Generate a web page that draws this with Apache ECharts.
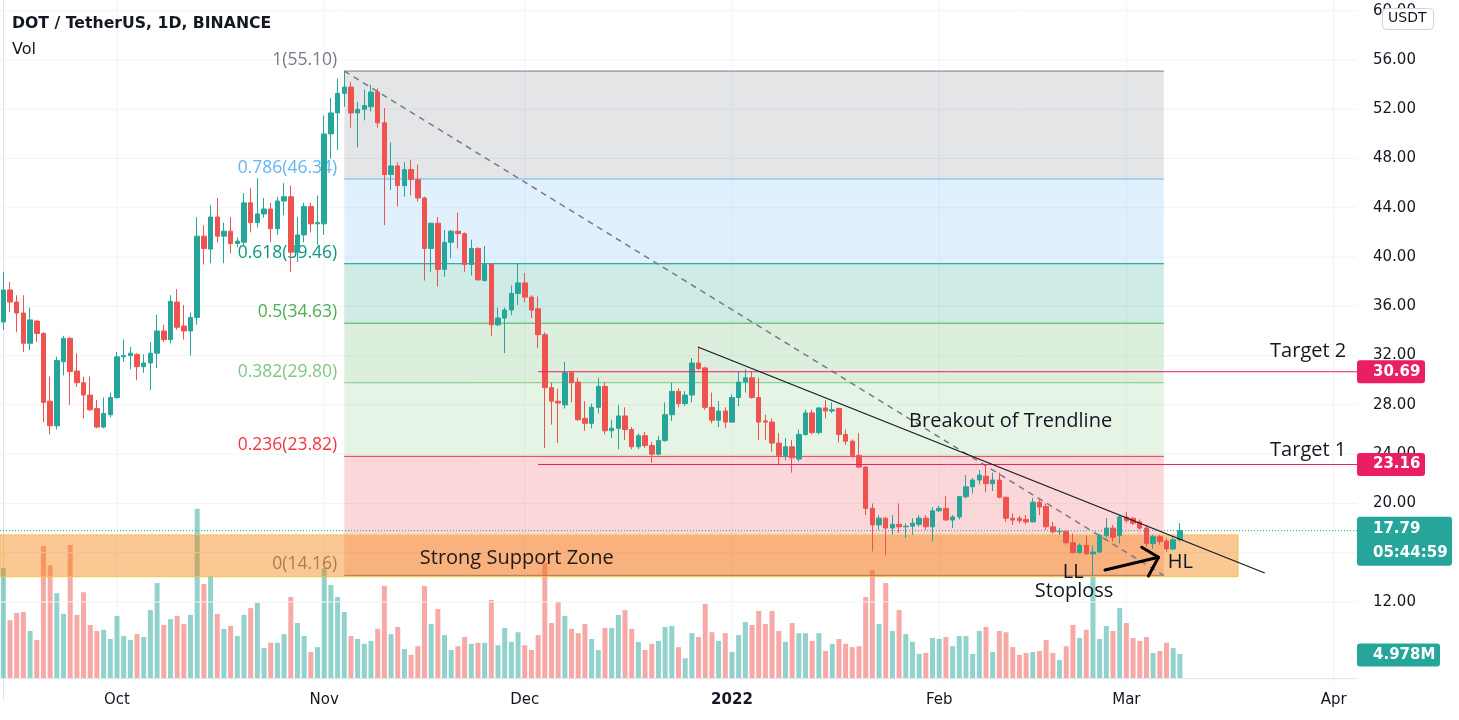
<!DOCTYPE html>
<html><head><meta charset="utf-8">
<script src="https://cdn.jsdelivr.net/npm/echarts@6/dist/echarts.min.js"></script>
<style>html,body{margin:0;padding:0;background:#fff}#c{width:1459px;height:720px}</style>
</head><body><div id="c"></div>
<script>
// ---------- DATA ----------
const firstDay = '2021-09-14';
const dayCount = 203; // visible days on the time scale (Sep 14 2021 .. Apr 4 2022)
// daily candles [open, high, low, close]
const ohlc = [
[34.73,38.79,34.08,37.33],[37.33,37.98,35.54,36.35],[36.35,36.9,33.9,35.46],[35.46,36.9,32.3,33.0],[33.0,35.9,32.45,34.9],
[34.8,34.9,33.1,33.8],[33.8,33.9,26.6,28.2],[28.3,30.3,25.6,26.3],[26.3,31.9,26.0,31.6],[31.5,33.6,30.4,33.4],
[33.4,33.5,28.0,30.7],[30.75,32.2,29.45,29.8],[29.8,30.3,26.9,28.8],[28.8,30.3,27.5,27.6],[27.7,28.4,26.1,26.2],
[26.2,28.6,26.1,27.3],[27.2,29.0,27.0,28.6],[28.6,32.3,28.5,31.9],[31.9,33.3,31.5,32.0],[32.0,32.7,30.9,32.2],
[32.1,32.2,30.0,31.1],[31.1,32.1,30.6,31.4],[31.4,33.1,29.2,32.2],[32.2,35.3,31.0,34.0],[34.0,34.5,33.1,33.3],
[33.3,36.9,33.0,36.4],[36.35,37.4,34.1,34.3],[34.4,36.1,33.3,34.0],[34.0,35.5,32.0,35.1],[35.1,43.25,34.5,41.7],
[41.7,42.6,39.4,40.7],[40.65,44.2,39.5,43.25],[43.25,44.8,41.2,41.7],[41.7,42.8,39.5,42.1],[42.1,43.25,40.3,41.1],
[41.1,41.6,40.8,41.3],[41.2,45.2,40.9,44.4],[44.4,45.6,42.0,42.8],[42.8,46.4,42.4,43.5],[43.5,44.8,43.2,43.9],
[43.9,44.4,41.2,42.3],[42.3,44.9,41.8,44.55],[44.55,46.0,43.4,44.9],[44.9,45.8,38.8,40.4],[40.4,43.25,39.6,41.8],
[41.8,44.4,41.2,44.1],[44.1,44.4,42.0,42.7],[42.7,45.0,41.0,42.8],[42.7,51.5,41.8,50.0],[50.0,52.9,48.0,51.7],
[51.7,54.5,48.7,53.3],[53.3,55.1,52.2,53.8],[53.8,54.2,50.5,51.7],[51.7,52.6,48.9,52.0],[52.0,53.6,51.1,52.3],
[52.2,54.0,51.8,53.4],[53.4,53.7,50.5,50.9],[50.9,52.1,42.6,46.7],[46.7,49.3,45.45,47.4],[47.4,47.7,44.1,45.8],
[45.8,47.7,44.9,47.1],[47.1,47.9,45.0,46.3],[46.3,47.5,44.5,44.8],[44.8,44.9,38.1,40.7],[40.7,42.8,38.8,42.75],
[42.75,43.25,37.6,39.0],[39.0,42.2,38.4,41.2],[41.2,42.2,39.9,42.1],[42.1,43.6,40.7,41.9],[41.9,42.0,38.8,39.4],
[39.4,41.4,38.5,40.7],[40.7,40.8,38.1,38.15],[38.1,40.9,38.0,39.4],[39.4,39.5,33.6,34.5],[34.5,35.9,34.4,35.05],
[35.05,35.9,32.2,35.7],[35.7,37.7,35.3,37.05],[37.05,39.5,36.1,37.9],[37.9,38.7,36.3,36.75],[36.75,36.9,35.05,35.7],
[35.8,36.8,32.6,33.7],[33.7,33.9,24.5,29.4],[29.4,29.8,26.4,28.3],[28.3,29.3,24.9,28.15],[28.0,31.5,27.7,30.6],
[30.6,30.7,28.2,29.8],[29.85,30.2,26.7,26.8],[26.9,28.3,25.9,26.5],[26.5,28.1,26.1,27.8],[27.8,30.2,27.3,29.5],
[29.5,29.85,25.6,25.9],[25.9,26.8,25.3,26.1],[26.1,28.0,24.4,27.1],[27.1,27.8,25.15,26.0],[26.0,26.2,24.4,24.6],
[24.6,25.7,24.4,25.5],[25.5,25.8,24.5,24.7],[24.7,25.0,23.3,24.0],[24.0,25.5,23.9,25.1],[25.1,28.2,25.0,27.2],
[27.2,29.8,26.7,29.1],[29.1,29.35,27.8,28.1],[28.1,29.1,27.9,28.8],[28.8,31.8,28.2,31.4],[31.4,32.7,30.8,30.95],
[31.0,31.1,27.6,27.8],[27.8,29.0,26.5,26.75],[26.75,28.3,26.2,27.5],[27.5,27.8,26.1,26.6],[26.6,28.85,26.55,28.6],
[28.6,30.7,27.9,29.85],[29.85,30.9,29.0,30.2],[30.2,30.7,28.5,28.6],[28.6,30.2,25.15,26.6],[26.7,27.2,25.15,26.6],
[26.6,26.9,24.2,24.9],[24.9,25.7,23.1,23.9],[23.9,25.3,23.5,24.6],[24.6,25.15,22.5,23.7],[23.6,26.0,23.4,25.6],
[25.6,27.6,25.5,27.35],[27.35,27.6,25.6,25.75],[25.75,27.8,25.6,27.75],[27.75,28.4,26.9,27.5],[27.5,28.2,27.35,27.6],
[27.7,27.8,24.95,25.6],[25.6,26.0,24.75,25.05],[25.05,25.2,23.7,23.9],[23.9,25.7,22.9,22.95],[22.95,23.0,19.05,19.6],
[19.6,20.0,16.1,18.25],[18.25,19.05,17.85,18.8],[18.8,18.9,15.8,18.0],[18.0,19.05,17.45,18.3],[18.3,20.0,17.6,18.1],
[18.1,18.4,17.2,18.15],[18.15,18.8,17.45,18.4],[18.3,19.05,18.1,18.8],[18.8,19.05,17.85,18.1],[18.1,19.7,16.9,19.4],
[19.4,19.8,19.3,19.6],[19.6,20.6,18.6,18.65],[18.65,19.05,18.0,18.9],[18.9,20.6,18.7,20.55],[20.55,22.3,20.4,21.35],
[21.35,22.05,20.8,21.9],[21.9,22.7,21.55,22.3],[22.2,23.1,20.9,21.6],[21.6,22.5,21.0,21.9],[21.9,22.5,20.4,20.5],
[20.5,20.55,18.5,18.8],[18.8,19.2,18.25,18.65],[18.8,19.0,18.4,18.6],[18.7,19.05,18.3,18.5],[18.5,20.45,18.45,20.1],
[20.1,20.35,19.05,19.7],[19.75,20.0,17.85,18.1],[18.1,18.5,17.55,17.7],[17.7,18.0,17.45,17.75],[17.75,17.8,16.65,16.8],
[16.8,17.55,15.95,16.0],[16.0,16.75,15.95,16.6],[16.6,17.4,15.85,15.9],[15.9,16.6,14.16,16.05],[16.05,17.55,15.95,17.4],
[17.4,18.8,17.2,18.0],[18.0,18.25,16.9,17.25],[17.4,19.05,16.75,18.9],[18.9,19.3,18.4,18.6],[18.8,18.9,18.25,18.4],
[18.5,18.7,17.85,18.0],[18.0,18.25,16.5,16.75],[16.75,17.45,16.3,17.3],[17.3,17.45,16.65,16.9],[16.95,17.2,16.05,16.3],
[16.3,17.3,16.2,17.05],[17.05,18.4,16.9,17.79]
];
// daily volume, millions of DOT
const volumes = [
22.8,12.0,13.5,13.7,9.75,7.9,27.4,23.4,17.6,13.3,27.6,13.1,17.8,11.0,9.75,10.0,8.1,12.9,8.7,7.9,
9.1,8.5,14.1,19.7,11.0,12.2,12.9,11.2,13.1,35.1,19.5,21.2,13.3,10.2,10.8,8.7,13.1,14.5,15.6,6.2,
7.3,7.3,9.1,16.8,11.4,8.7,5.4,6.4,22.8,19.3,16.8,13.7,8.7,8.1,7.1,7.7,10.2,19.1,9.1,10.6,
6.0,4.8,6.6,19.1,11.2,14.3,8.9,5.8,6.6,8.5,7.1,7.3,7.3,16.2,6.8,10.4,7.5,9.5,6.8,5.8,
8.9,23.9,11.4,15.8,12.9,10.2,9.3,11.2,8.1,5.8,10.4,10.4,13.1,14.1,10.2,7.5,5.8,7.1,7.7,10.6,
10.8,6.4,4.1,9.3,8.5,15.4,9.5,7.7,9.3,5.4,8.9,11.6,11.0,13.9,11.2,13.9,9.75,7.5,11.4,9.3,
9.3,7.7,9.3,5.6,7.1,8.1,7.1,6.4,6.6,16.8,22.4,11.2,19.7,9.75,14.1,9.1,7.5,5.0,5.2,8.3,
8.1,8.5,6.6,8.7,8.7,5.0,9.75,10.6,5.4,9.75,9.5,6.4,4.8,5.2,5.4,5.6,7.9,5.2,3.7,6.6,
11.0,8.3,10.0,21.0,8.1,10.8,9.75,14.5,11.4,8.3,7.7,8.5,5.2,5.6,7.3,6.2,4.978
];
const monthLabels = {'10':'Oct','11':'Nov','12':'Dec','01':'2022','02':'Feb','03':'Mar','04':'Apr'};
const priceTicks = [12,16,20,24,28,32,36,40,44,48,52,56,60];
const fibRatios = ['1','0.786','0.618','0.5','0.382','0.236','0'];
const fibPrices = [55.10,46.34,39.46,34.63,29.80,23.82,14.16];
const targetNames = ['Target 2','Target 1'];
const targetPrices = [30.69,23.16];
const supportZone = [14.05,17.44];
const trendHigh = 32.70, trendEndPrice = 14.35;
const lastPrice = 17.79, countdown = '05:44:59', lastVolumeText = '4.978M';

// ---------- DERIVED ----------
const dates = [];
for (let i = 0; i < dayCount; i++) {
  const d = new Date(firstDay + 'T00:00:00Z'); d.setUTCDate(d.getUTCDate() + i);
  dates.push(d.toISOString().slice(0, 10));
}
const candleData = ohlc.map(r => [r[0], r[3], r[2], r[1]]);
const UP = '#26a69a', DOWN = '#ef5350';
const volData = volumes.map((v, i) => ({ value: v, itemStyle: { color: ohlc[i][3] >= ohlc[i][0] ? 'rgba(38,166,154,0.5)' : 'rgba(239,83,80,0.5)' } }));
const monthStartIdx = dates.map((d, i) => d.endsWith('-01') ? i : -1).filter(i => i >= 0);
const lastIdx = ohlc.length - 1;

// annotation anchors (day index on the time scale)
const fibStart = 51, fibEnd = 173.6;
const zoneEnd = 184.7, targetStart = 80;
const trendStart = 103.9, trendEnd = 188.7;

const FONT_AX = 'DejaVu Sans';
const FONT_DRAW = 'Open Sans';
const fibColors = ['#787b86','#64b5f6','#089981','#4caf50','#81c784','#f23645','#787b86'];
const fibFills = ['rgba(120,123,134,0.2)','rgba(100,181,246,0.2)','rgba(8,153,129,0.2)','rgba(76,175,80,0.2)','rgba(129,199,132,0.2)','rgba(242,54,69,0.2)'];

function P(api, x, y) { return api.coord([x, y]); }
function seg(api, x0, y0, x1, y1, style) {
  const a = P(api, x0, y0), b = P(api, x1, y1);
  return { type: 'line', shape: { x1: a[0], y1: a[1], x2: b[0], y2: b[1] }, style: style };
}
function box(api, x0, x1, y0, y1, style) {
  const a = P(api, x0, y0), b = P(api, x1, y1);
  return { type: 'rect', shape: { x: Math.min(a[0], b[0]), y: Math.min(a[1], b[1]), width: Math.abs(b[0] - a[0]), height: Math.abs(b[1] - a[1]) }, style: style };
}
function label(x, y, text, fill, font, align, valign) {
  return { type: 'text', x: x, y: y, style: { text: text, fill: fill, font: font, textAlign: align || 'left', textVerticalAlign: valign || 'middle' } };
}

// background grid + fib tool
function renderFib(params, api) {
  const kids = [];
  priceTicks.forEach(t => kids.push(seg(api, -0.5, t, dayCount - 0.5, t, { stroke: '#f0f3fa', lineWidth: 1 })));
  for (let i = 0; i < fibPrices.length - 1; i++) kids.push(box(api, fibStart, fibEnd, fibPrices[i], fibPrices[i + 1], { fill: fibFills[i] }));
  fibPrices.forEach((p, i) => {
    kids.push(seg(api, fibStart, p, fibEnd, p, { stroke: fibColors[i], lineWidth: 1 }));
    const a = P(api, fibStart, p);
    kids.push(label(a[0] - 7, a[1] - 2, fibRatios[i] + '(' + p.toFixed(2) + ')', fibColors[i], '17.5px "' + FONT_DRAW + '"', 'right', 'bottom'));
  });
  return { type: 'group', children: kids };
}
function renderZone(params, api) {
  const kids = [];
  kids.push(box(api, -0.5, zoneEnd, supportZone[0], supportZone[1], { fill: 'rgba(245,124,0,0.42)', stroke: '#f3c24a', lineWidth: 1 }));
  const t = P(api, 62.3, 15.57);
  kids.push(label(t[0], t[1], 'Strong Support Zone', '#1f1a16', '20px "' + FONT_DRAW + '"'));
  return { type: 'group', children: kids };
}
function renderDrawings(params, api) {
  const kids = [];
  const F = '20px "' + FONT_DRAW + '"';
  kids.push(seg(api, fibStart, fibPrices[0], fibEnd, fibPrices[6], { stroke: '#787b86', lineWidth: 1.5, lineDash: [6, 5] }));
  kids.push(seg(api, -0.5, lastPrice, dayCount - 0.5, lastPrice, { stroke: UP, lineWidth: 1, lineDash: [1, 2] }));
  targetPrices.forEach(p => kids.push(seg(api, targetStart, p, dayCount - 0.5, p, { stroke: '#e91e63', lineWidth: 1 })));
  kids.push(seg(api, trendStart, trendHigh, trendEnd, trendEndPrice, { stroke: '#131722', lineWidth: 1.2 }));
  let q = P(api, 135.5, 26.69); kids.push(label(q[0], q[1], 'Breakout of Trendline', '#131722', F));
  q = P(api, 189.5, 32.38); kids.push(label(q[0], q[1], targetNames[0], '#131722', F));
  q = P(api, 189.5, 24.34); kids.push(label(q[0], q[1], targetNames[1], '#131722', F));
  q = P(api, 158.5, 14.44); kids.push(label(q[0], q[1], 'LL', '#131722', F));
  q = P(api, 154.3, 12.89); kids.push(label(q[0], q[1], 'Stoploss', '#131722', F));
  q = P(api, 174.2, 15.25); kids.push(label(q[0], q[1], 'HL', '#131722', F));
  const as = { stroke: '#000', lineWidth: 3, lineCap: 'round' };
  kids.push(seg(api, 164.8, 14.60, 172.8, 15.63, as));
  kids.push(seg(api, 170.3, 16.44, 172.8, 15.63, as));
  kids.push(seg(api, 171.3, 14.11, 172.8, 15.63, as));
  return { type: 'group', children: kids };
}
function tag(x, yc, w, h, fill, lines) {
  const kids = [{ type: 'rect', shape: { x: x, y: yc - h / 2, width: w, height: h, r: 3 }, style: { fill: fill } }];
  const lh = h / lines.length;
  lines.forEach((t, i) => kids.push(label(x + 16, yc - h / 2 + lh * (i + 0.5), t, '#fff', 'bold 15px "' + FONT_AX + '"')));
  return kids;
}
function renderPriceTags(params, api) {
  const cs = params.coordSys, x = cs.x + cs.width, kids = [];
  targetPrices.forEach(p => { kids.push(...tag(x, P(api, 0, p)[1], 68, 23, '#e91e63', [p.toFixed(2)])); });
  kids.push(...tag(x, P(api, 0, lastPrice)[1] + 10.5, 95, 49, UP, [lastPrice.toFixed(2), countdown]));
  return { type: 'group', children: kids };
}
function renderVolTag(params, api) {
  const cs = params.coordSys, x = cs.x + cs.width;
  const y = api.coord([dates[lastIdx], volumes[lastIdx]])[1];
  return { type: 'group', children: tag(x, y + 1, 83, 23, UP, [lastVolumeText]) };
}
function renderMonthLines(params, api) {
  const cs = params.coordSys, kids = [];
  monthStartIdx.forEach(i => {
    const x = api.coord([dates[i], 0])[0];
    kids.push({ type: 'line', shape: { x1: x, y1: 0, x2: x, y2: cs.y + cs.height + 4 }, style: { stroke: '#f0f3fa', lineWidth: 1 } });
  });
  return { type: 'group', children: kids };
}

const chart = echarts.init(document.getElementById('c'), null, { renderer: 'canvas' });
chart.setOption({
  animation: false,
  backgroundColor: '#ffffff',
  title: [
    { text: 'DOT / TetherUS, 1D, BINANCE', left: 12, top: 16, padding: 0, textStyle: { fontFamily: FONT_AX, fontWeight: 'bold', fontSize: 15.7, color: '#131722' } },
    { text: 'Vol', left: 12, top: 42, padding: 0, textStyle: { fontFamily: FONT_AX, fontWeight: 'normal', fontSize: 16, color: '#131722' } }
  ],
  graphic: [
    { type: 'rect', left: 1382, top: 8, shape: { width: 51, height: 21, r: 4 }, style: { fill: '#fff', stroke: '#d1d4dc', lineWidth: 1 }, z: 100 },
    { type: 'text', left: 1388, top: 11, style: { text: 'USDT', fill: '#131722', font: '14px "DejaVu Sans"' }, z: 101 }
  ],
  grid: [
    { left: 0, right: 102, top: 0, height: 700.5 },
    { left: 0, right: 102, top: 479, height: 199 }
  ],
  xAxis: [
    { type: 'category', gridIndex: 0, data: dates, boundaryGap: true, show: false },
    { type: 'category', gridIndex: 1, data: dates, boundaryGap: true, offset: 4,
      axisLine: { show: true, lineStyle: { color: '#e0e3eb' } }, axisTick: { show: false }, splitLine: { show: false },
      axisLabel: { interval: (i, v) => v.endsWith('-01'), margin: 11, fontFamily: FONT_AX, fontSize: 15, color: '#131722',
        formatter: v => { const m = v.slice(5, 7); return m === '01' ? '{b|' + monthLabels[m] + '}' : monthLabels[m]; },
        rich: { b: { fontFamily: FONT_AX, fontSize: 15, fontWeight: 'bold', color: '#131722' } } } },
    { type: 'value', gridIndex: 0, min: -0.5, max: dayCount - 0.5, show: false }
  ],
  yAxis: [
    { type: 'value', gridIndex: 0, position: 'right', min: 4, max: 60.87, interval: 4,
      axisLine: { show: true, lineStyle: { color: '#e0e3eb' } }, axisTick: { show: false }, splitLine: { show: false },
      axisLabel: { margin: 16, fontFamily: FONT_AX, fontSize: 15, color: '#131722', formatter: v => v >= 12 ? v.toFixed(2) : '' } },
    { type: 'value', gridIndex: 1, min: 0, max: 41.3, show: false }
  ],
  series: [
    { type: 'custom', name: 'monthGrid', xAxisIndex: 1, yAxisIndex: 1, data: [[0, 0]], renderItem: renderMonthLines, clip: false, silent: true, z: 0 },
    { type: 'bar', name: 'Vol', xAxisIndex: 1, yAxisIndex: 1, data: volData, barWidth: 5, z: 1, silent: true },
    { type: 'custom', name: 'fib', xAxisIndex: 2, yAxisIndex: 0, data: [[0, 30]], renderItem: renderFib, clip: false, silent: true, z: 2 },
    { type: 'custom', name: 'zone', xAxisIndex: 2, yAxisIndex: 0, data: [[0, 30]], renderItem: renderZone, clip: false, silent: true, z: 3 },
    { type: 'candlestick', name: 'DOTUSDT', xAxisIndex: 0, yAxisIndex: 0, data: candleData, barWidth: 5, z: 5,
      itemStyle: { color: UP, color0: DOWN, borderColor: UP, borderColor0: DOWN, borderWidth: 1 } },
    { type: 'custom', name: 'drawings', xAxisIndex: 2, yAxisIndex: 0, data: [[0, 30]], renderItem: renderDrawings, clip: false, silent: true, z: 6 },
    { type: 'custom', name: 'tags', xAxisIndex: 2, yAxisIndex: 0, data: [[0, 30]], renderItem: renderPriceTags, clip: false, silent: true, z: 10 },
    { type: 'custom', name: 'volTag', xAxisIndex: 1, yAxisIndex: 1, data: [[0, 0]], renderItem: renderVolTag, clip: false, silent: true, z: 10 }
  ]
});
</script></body></html>
